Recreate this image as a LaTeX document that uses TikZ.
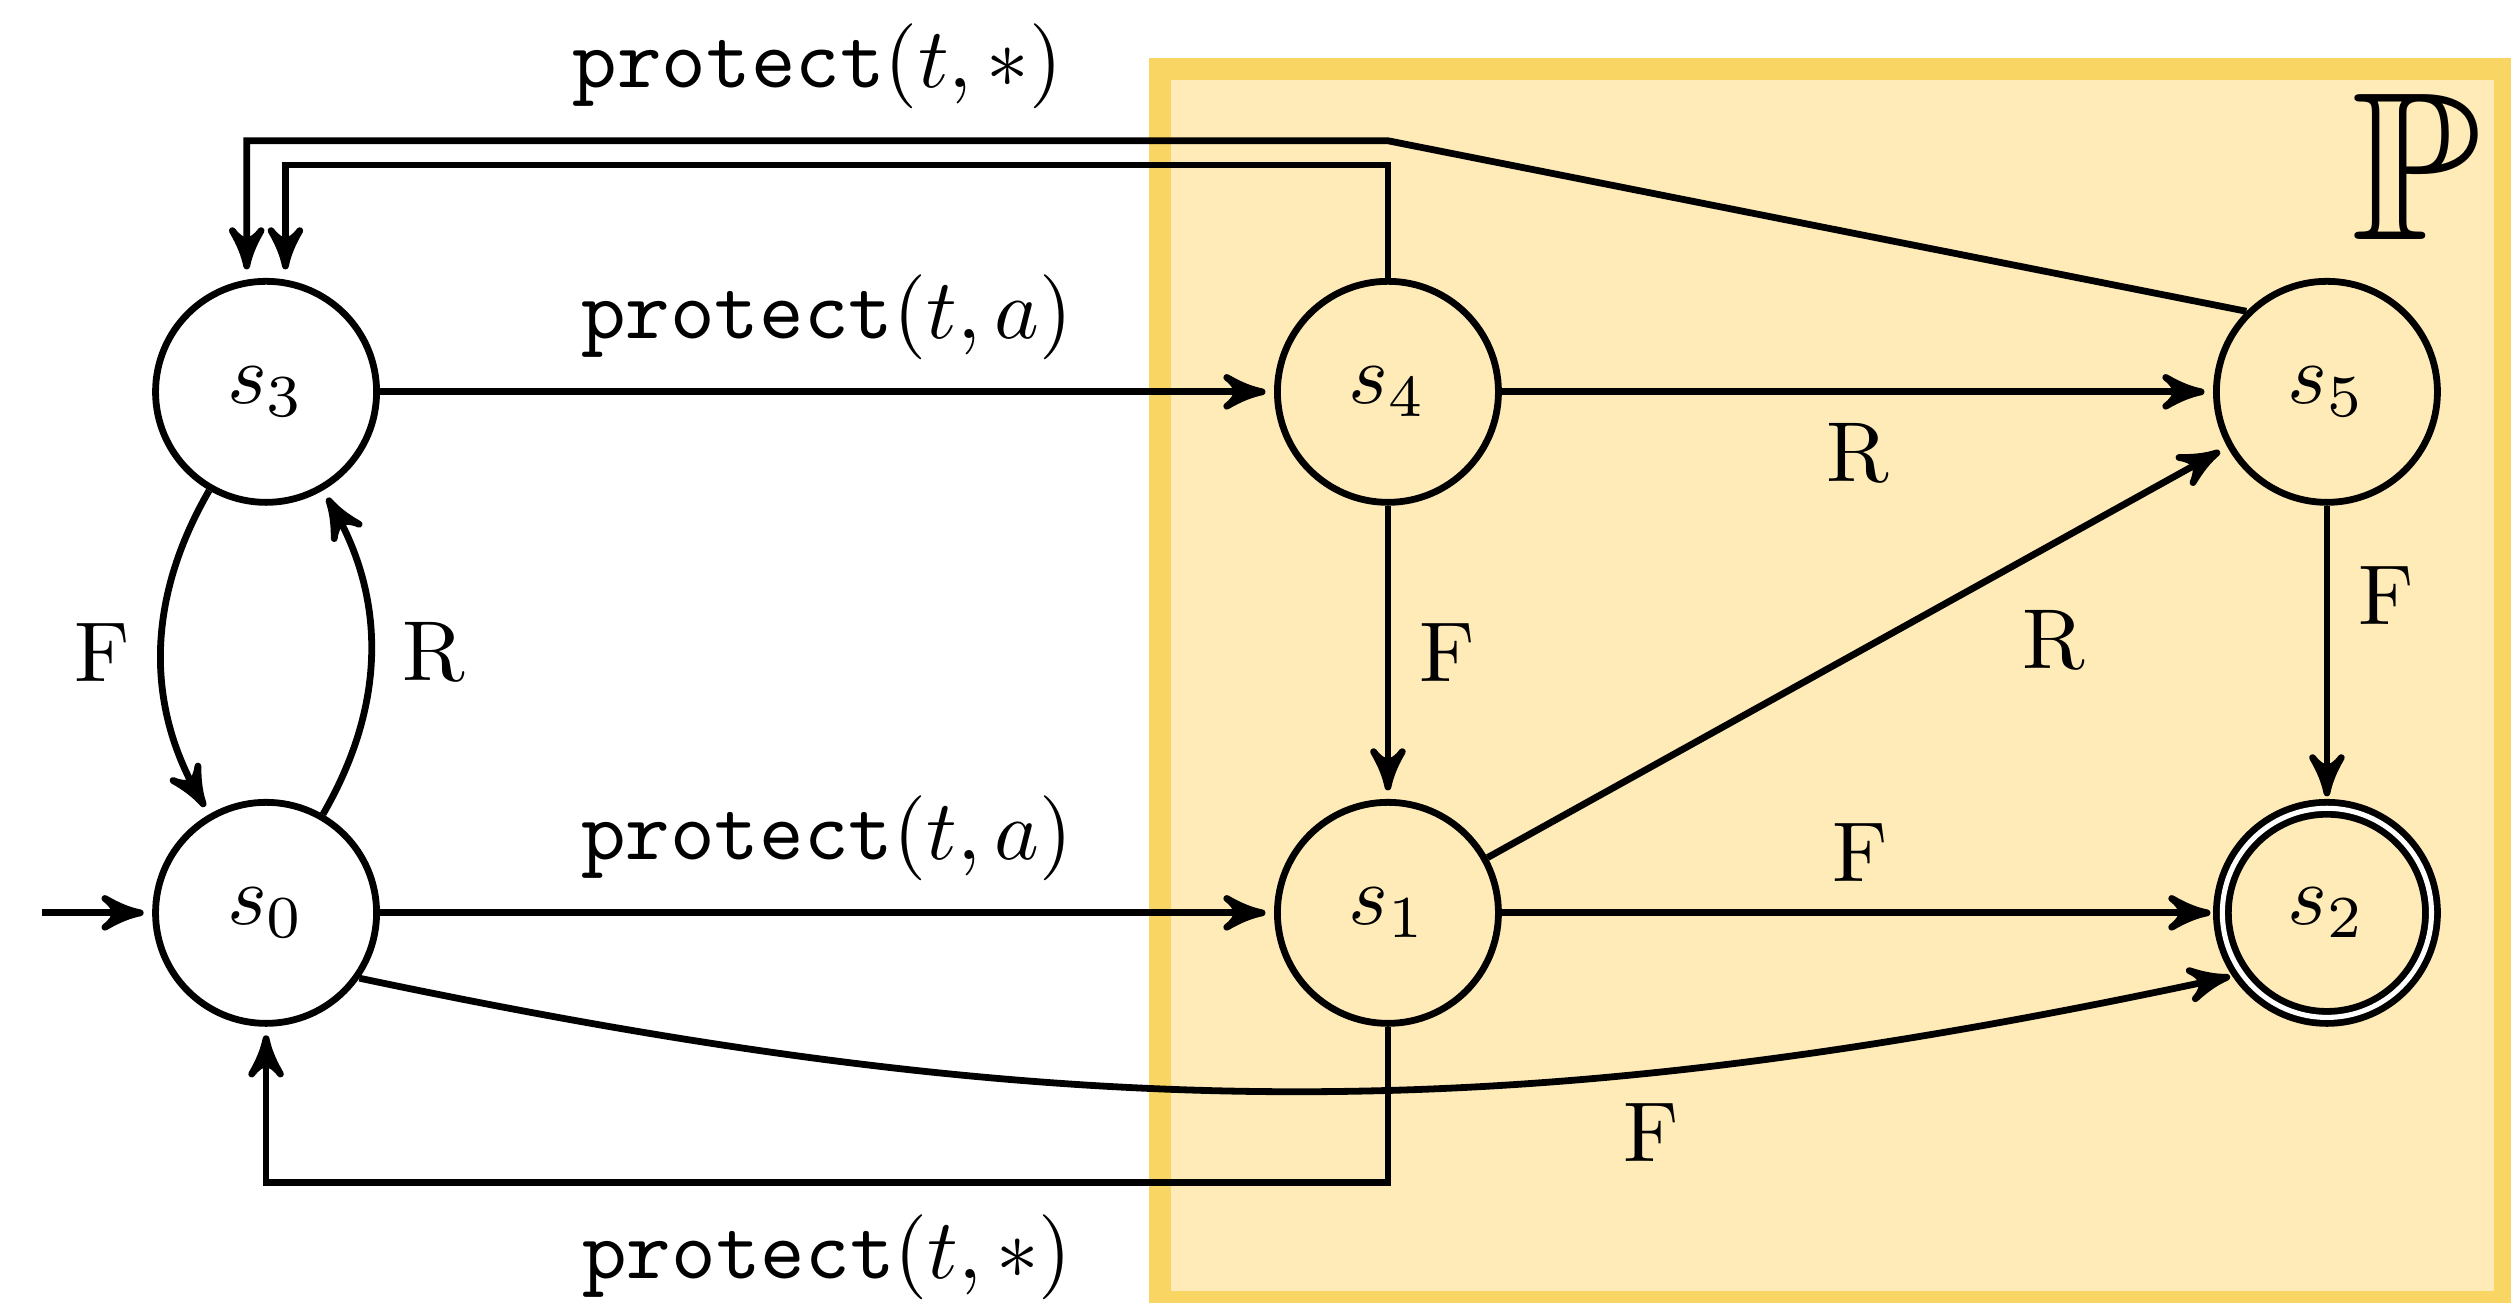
\documentclass[tikz,border=0pt]{standalone}
\usepackage{amsmath,amssymb}
\usepackage{tikz}
\usetikzlibrary{arrows,calc,positioning}
\definecolor{PropFill}{RGB}{254,235,184}
\definecolor{PropEdge}{RGB}{249,213,99}
\newcommand{\prot}[1]{$\texttt{protect}(t,#1)$}

\begin{document}
\begin{tikzpicture}[node distance=1.212cm and 3.696cm,>=stealth',thick,
  state/.style={draw,circle,minimum size=26pt,inner sep=0pt},
  accepting/.style={double,double distance=0.6pt,minimum size=24.6pt},
  link/.style={->,shorten >=1pt}]
\useasboundingbox (-1.100,-1.612) rectangle (9.281,3.774);
\draw[draw=PropEdge,fill=PropFill,line width=2.5pt] (3.696,-1.606) rectangle (9.254,3.489);
\node[state] (s0) {$s_0$};
\node[state,above=of s0] (s3) {$s_3$};
\node[state,right=of s0] (s1) {$s_1$};
\node[state,right=of s3] (s4) {$s_4$};
\node[state,right=2.940cm of s4] (s5) {$s_5$};
\node[state,accepting] (s2) at (s5 |- s1) {$s_2$};
\node[font=\Huge] (P) at ($(s5)+(0.368,0.930)$) {$\mathbb{P}$};
\coordinate[left=3ex of s0] (in);
\draw[link] (in) -- (s0);
\draw[link] (s0) -- node[above] {\prot{a}} (s1);
\draw[link] (s3) -- node[above] {\prot{a}} (s4);
\draw[link] (s4) -- node[below] {R} (s5);
\draw[link] (s4) -- node[right] {F} (s1);
\draw[link] (s5) -- node[right,pos=0.3] {F} (s2);
\draw[link] (s1) -- node[above] {F} (s2);
\draw[link] (s1) -- node[below right,pos=0.68] {R} (s5);
\draw[link] (s3.240) to[bend right] node[left] {F} (s0.120);
\draw[link] (s0.60) to[bend right] node[right] {R} (s3.-60);
\draw[link] (s0.-35) to[bend right=12] node[below,pos=0.7] {F} (s2.215);
\draw[link] (s4.north) -- ($(s4)+(0,0.938)$) -| ([xshift=0.08cm]s3.north);
\draw[link] (s5.north west) -- ($(s4)+(0,1.038)$) -- node[above] {\prot{*}} ($(s3)+(-0.08,1.038)$) -- ([xshift=-0.08cm]s3.north);
\draw[link] (s1.south) -- ($(s1)+(0,-1.116)$) -- node[below] {\prot{*}} ($(s0)+(0,-1.116)$) -- (s0.south);
\end{tikzpicture}
\end{document}
